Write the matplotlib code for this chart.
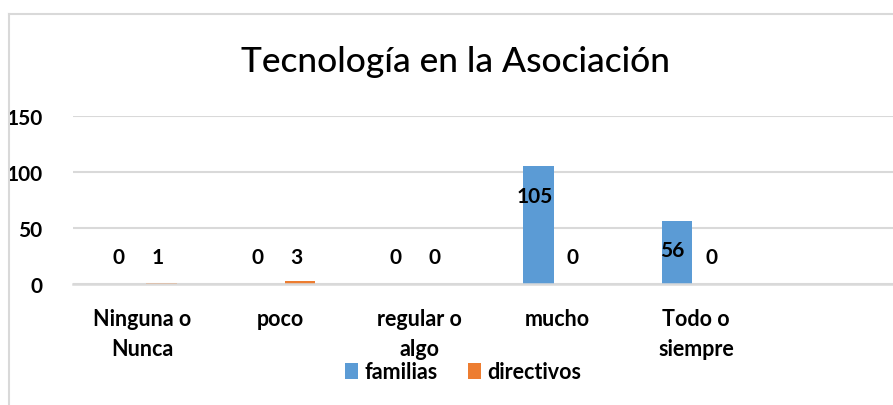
import matplotlib
matplotlib.use("Agg")
import matplotlib.pyplot as plt
import numpy as np
from matplotlib.lines import Line2D

categories = ["Ninguna o\nNunca", "poco", "regular o\nalgo", "mucho", "Todo o\nsiempre"]
familias = [0, 0, 0, 105, 56]
directivos = [1, 3, 0, 0, 0]
yticks = [0, 50, 100, 150]
title = "Tecnología en la Asociación"

blue = "#5b9bd5"
orange = "#ed7d31"
grid = "#d9d9d9"

plt.rcParams['font.family'] = ['Lato', 'DejaVu Sans']

W, H = 893, 406
fig = plt.figure(figsize=(W / 100, H / 100), dpi=100)

# outer chart border (cropped)
fig.add_artist(Line2D([9 / W, 9 / W], [0, 1 - 15 / H], color=grid, lw=1.5))
fig.add_artist(Line2D([9 / W, 1], [1 - 15 / H, 1 - 15 / H], color=grid, lw=1.5))

left, right = 73 / W, 1.0
bottom, top = 1 - 285 / H, 1 - 117 / H
ax = fig.add_axes([left, bottom, right - left, top - bottom])

x = np.arange(len(categories))
bw = 0.22
off = 0.14
ax.bar(x - off, familias, bw, color=blue, label="familias", zorder=3)
ax.bar(x + off, directivos, bw, color=orange, label="directivos", zorder=3)

span = (W - 73) / 138.5
ax.set_xlim(-0.5, span - 0.5)
ax.set_ylim(0, 150)
ax.set_yticks(yticks)
ax.set_xticks(x)
ax.set_xticklabels(categories, fontsize=15.5, fontweight='bold', linespacing=1.55)
ax.tick_params(axis='x', length=0, pad=17)
ax.tick_params(axis='y', length=0, pad=22, labelsize=15)
for t in ax.get_yticklabels():
    t.set_fontweight('bold')

for s in ax.spines.values():
    s.set_visible(False)
ax.grid(axis='y', color=grid, lw=1.5, zorder=0)
ax.set_axisbelow(True)
ax.axhline(0, color=grid, lw=1.8, zorder=3.5, clip_on=False)

def label_y(v):
    return v - 26 if v > 50 else 24

for xi, v in zip(x, familias):
    ax.text(xi - off - 0.03, label_y(v), str(v), ha='center', va='center',
            fontsize=15, fontweight='bold', zorder=4)
for xi, v in zip(x, directivos):
    ax.text(xi + off - 0.03, label_y(v), str(v), ha='center', va='center',
            fontsize=15, fontweight='bold', zorder=4)

fig.text(456 / W, 1 - 62 / H, title, ha='center', va='center', fontsize=25.5,
         fontweight='medium')

leg = fig.legend(loc='center', bbox_to_anchor=(463 / W, 1 - 373 / H), ncol=2,
                 frameon=False, prop={'size': 15.5, 'weight': 'bold'},
                 handlelength=0.6, handleheight=0.8, handletextpad=0.3,
                 columnspacing=1.4)

fig.savefig("out.png", dpi=100)
